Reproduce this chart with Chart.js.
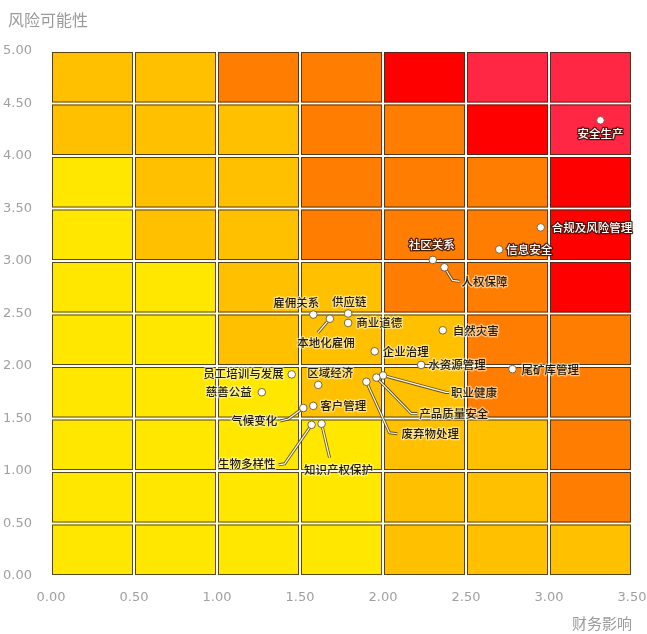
<!DOCTYPE html>
<html>
<head>
<meta charset="utf-8">
<script src="https://cdn.jsdelivr.net/npm/chart.js@4/dist/chart.umd.min.js"></script>
<style>
  html, body { margin: 0; padding: 0; background: #ffffff; }
  #wrap { width: 647px; height: 634px; position: relative; }
</style>
</head>
<body>
<div id="wrap"><canvas id="c"></canvas></div>
<script>
// ---------- DATA ----------
const riskNames = ['安全生产','合规及风险管理','信息安全','社区关系','人权保障','自然灾害','水资源管理','尾矿库管理',
  '职业健康','产品质量安全','废弃物处理','雇佣关系','供应链','本地化雇佣','商业道德','企业治理',
  '员工培训与发展','慈善公益','区域经济','客户管理','气候变化','生物多样性','知识产权保护'];
const financialImpact = [3.31, 2.95, 2.70, 2.30, 2.37, 2.36, 2.23, 2.78,
  2.00, 1.96, 1.90, 1.58, 1.79, 1.68, 1.79, 1.95,
  1.45, 1.27, 1.61, 1.58, 1.52, 1.57, 1.63];
const riskLikelihood = [4.34, 3.32, 3.11, 3.01, 2.94, 2.34, 2.01, 1.97,
  1.91, 1.89, 1.85, 2.49, 2.50, 2.45, 2.41, 2.14,
  1.92, 1.75, 1.82, 1.62, 1.60, 1.44, 1.45];
const xTickValues = [0, 0.5, 1, 1.5, 2, 2.5, 3, 3.5];
const yTickValues = [0, 0.5, 1, 1.5, 2, 2.5, 3, 3.5, 4, 4.5, 5];
const xAxisTitle = '财务影响';
const yAxisTitle = '风险可能性';
// heat level per cell, rows from likelihood 4.5-5.0 (top) down to 0-0.5, columns impact 0-0.5 ... 3.0-3.5
const heatLevels = [
  [2,2,3,3,4,5,5],
  [2,2,2,3,3,4,5],
  [1,2,2,3,3,3,4],
  [1,2,2,3,3,3,4],
  [1,1,2,2,3,3,4],
  [1,1,2,2,2,3,3],
  [1,1,1,2,2,3,3],
  [1,1,1,1,2,2,3],
  [1,1,1,1,2,2,3],
  [1,1,1,1,2,2,2]
];

// ---------- STYLES / LAYOUT ----------
const levelColors = { 1: '#FFE700', 2: '#FFC000', 3: '#FF7D00', 4: '#FE0000', 5: '#FF2743' };
const cellStep = 0.5;
// label layout per risk: text offset (dx,dy), alignment, leader polyline offsets, light text flag
const labelLayout = {
  '安全生产':      { dx: 0,   dy: 13, align: 'center', light: true },
  '合规及风险管理': { dx: 11,  dy: 0,  align: 'left', light: true },
  '信息安全':      { dx: 7,   dy: 0,  align: 'left', light: true },
  '社区关系':      { dx: -1,  dy: -15, align: 'center', light: true },
  '人权保障':      { dx: 17,  dy: 14, align: 'left', leader: [[8,13],[15,14]] },
  '自然灾害':      { dx: 10,  dy: 0,  align: 'left' },
  '水资源管理':    { dx: 7,   dy: 0,  align: 'left' },
  '尾矿库管理':    { dx: 9,   dy: 0,  align: 'left' },
  '职业健康':      { dx: 68,  dy: 17, align: 'left', leader: [[63,17],[66,17]] },
  '产品质量安全':  { dx: 43,  dy: 36, align: 'left', leader: [[35,36],[41,36]] },
  '废弃物处理':    { dx: 35,  dy: 52, align: 'left', leader: [[23,51],[31,52]] },
  '雇佣关系':      { dx: -17, dy: -12, align: 'center' },
  '供应链':        { dx: 1,   dy: -12, align: 'center' },
  '本地化雇佣':    { dx: -4,  dy: 24, align: 'center', leader: [[-12,14]] },
  '商业道德':      { dx: 8,   dy: 0,  align: 'left' },
  '企业治理':      { dx: 8,   dy: 0,  align: 'left' },
  '员工培训与发展': { dx: -8,  dy: -1, align: 'right' },
  '慈善公益':      { dx: -10, dy: -1, align: 'right' },
  '区域经济':      { dx: 12,  dy: -12, align: 'center' },
  '客户管理':      { dx: 7,   dy: 0,  align: 'left' },
  '气候变化':      { dx: -26, dy: 13, align: 'right', leader: [[-15,11],[-23,13]] },
  '生物多样性':    { dx: -36, dy: 39, align: 'right', leader: [[-27,39],[-33,40]] },
  '知识产权保护':  { dx: 17,  dy: 46, align: 'center', leader: [[8,34]] }
};
const labelFont = '500 11.5px "Noto Sans CJK SC", "Noto Sans", sans-serif';

const heatCellsPlugin = {
  id: 'heatCells',
  beforeDatasetsDraw(chart) {
    const { ctx, scales: { x, y } } = chart;
    ctx.save();
    const nRows = heatLevels.length;
    heatLevels.forEach((row, r) => {
      const yTopVal = (nRows - r) * cellStep;
      const yBotVal = yTopVal - cellStep;
      row.forEach((lvl, c) => {
        const x0 = x.getPixelForValue(c * cellStep);
        const x1 = x.getPixelForValue((c + 1) * cellStep);
        const y0 = y.getPixelForValue(yTopVal);
        const y1 = y.getPixelForValue(yBotVal);
        ctx.fillStyle = levelColors[lvl];
        ctx.fillRect(x0 + 1, y0 + 1, x1 - x0 - 2, y1 - y0 - 2);
        ctx.strokeStyle = 'rgba(60,45,25,0.85)';
        ctx.lineWidth = 1;
        ctx.strokeRect(x0 + 1.5, y0 + 1.5, x1 - x0 - 3, y1 - y0 - 3);
      });
    });
    // leader lines
    const meta = chart.getDatasetMeta(0);
    meta.data.forEach((pt, i) => {
      const lay = labelLayout[riskNames[i]];
      if (!lay || !lay.leader) return;
      const pts = [[pt.x, pt.y]].concat(lay.leader.map(o => [pt.x + o[0], pt.y + o[1]]));
      [['rgba(70,60,40,0.85)', 3], ['#fffbe0', 1.2]].forEach(([col, w]) => {
        ctx.beginPath();
        ctx.moveTo(pts[0][0], pts[0][1]);
        for (let k = 1; k < pts.length; k++) ctx.lineTo(pts[k][0], pts[k][1]);
        ctx.strokeStyle = col;
        ctx.lineWidth = w;
        ctx.lineJoin = 'round';
        ctx.stroke();
      });
    });
    ctx.restore();
  },
  afterDatasetsDraw(chart) {
    const { ctx } = chart;
    const meta = chart.getDatasetMeta(0);
    ctx.save();
    ctx.font = labelFont;
    ctx.textBaseline = 'middle';
    meta.data.forEach((pt, i) => {
      const name = riskNames[i];
      const lay = labelLayout[name] || { dx: 8, dy: 0, align: 'left' };
      const tx = pt.x + lay.dx, ty = pt.y + lay.dy;
      ctx.textAlign = lay.align;
      ctx.lineJoin = 'round';
      if (lay.light) {
        ctx.strokeStyle = 'rgba(60,20,10,0.9)';
        ctx.lineWidth = 2.5;
        ctx.strokeText(name, tx, ty);
        ctx.fillStyle = '#ffffff';
        ctx.fillText(name, tx, ty);
      } else {
        ctx.strokeStyle = 'rgba(255,255,235,0.55)';
        ctx.lineWidth = 2.5;
        ctx.strokeText(name, tx, ty);
        ctx.fillStyle = '#221c10';
        ctx.fillText(name, tx, ty);
      }
    });
    ctx.restore();
  },
  afterDraw(chart) {
    const { ctx, chartArea } = chart;
    ctx.save();
    ctx.fillStyle = '#9a9a9a';
    ctx.font = '16px "Noto Sans CJK SC", sans-serif';
    ctx.textBaseline = 'middle';
    ctx.textAlign = 'left';
    ctx.fillText(yAxisTitle, 8, 20);
    ctx.textAlign = 'right';
    ctx.font = '15px "Noto Sans CJK SC", sans-serif';
    ctx.fillText(xAxisTitle, chartArea.right, 623);
    ctx.restore();
  }
};

new Chart(document.getElementById('c'), {
  type: 'scatter',
  data: {
    datasets: [{
      label: '风险',
      data: financialImpact.map((v, i) => ({ x: v, y: riskLikelihood[i] })),
      pointRadius: 3.8,
      pointHoverRadius: 3.8,
      pointBackgroundColor: '#ffffff',
      pointBorderColor: 'rgba(110,90,50,0.9)',
      pointBorderWidth: 1
    }]
  },
  options: {
    responsive: true,
    maintainAspectRatio: false,
    animation: false,
    layout: { padding: { top: 51, right: 15, left: 0, bottom: 0 } },
    plugins: { legend: { display: false }, tooltip: { enabled: false }, title: { display: false } },
    scales: {
      x: {
        type: 'linear', min: 0, max: 3.5,
        afterBuildTicks(scale) { scale.ticks = xTickValues.map(v => ({ value: v })); },
        afterFit(scale) { scale.height = 58; scale.paddingLeft = 0; scale.paddingRight = 0; },
        ticks: {
          callback: v => Number(v).toFixed(2),
          color: '#a0a0a0',
          font: { family: 'DejaVu Sans', size: 13 },
          padding: 6,
          maxRotation: 0,
          autoSkip: false
        },
        grid: { display: false },
        border: { display: false }
      },
      y: {
        type: 'linear', min: 0, max: 5,
        afterBuildTicks(scale) { scale.ticks = yTickValues.map(v => ({ value: v })); },
        afterFit(scale) { scale.width = 51; scale.paddingTop = 0; scale.paddingBottom = 0; },
        ticks: {
          callback: v => Number(v).toFixed(2),
          color: '#a0a0a0',
          font: { family: 'DejaVu Sans', size: 13 },
          padding: 11,
          autoSkip: false
        },
        grid: { display: false },
        border: { display: false }
      }
    }
  },
  plugins: [heatCellsPlugin]
});
</script>
</body>
</html>
